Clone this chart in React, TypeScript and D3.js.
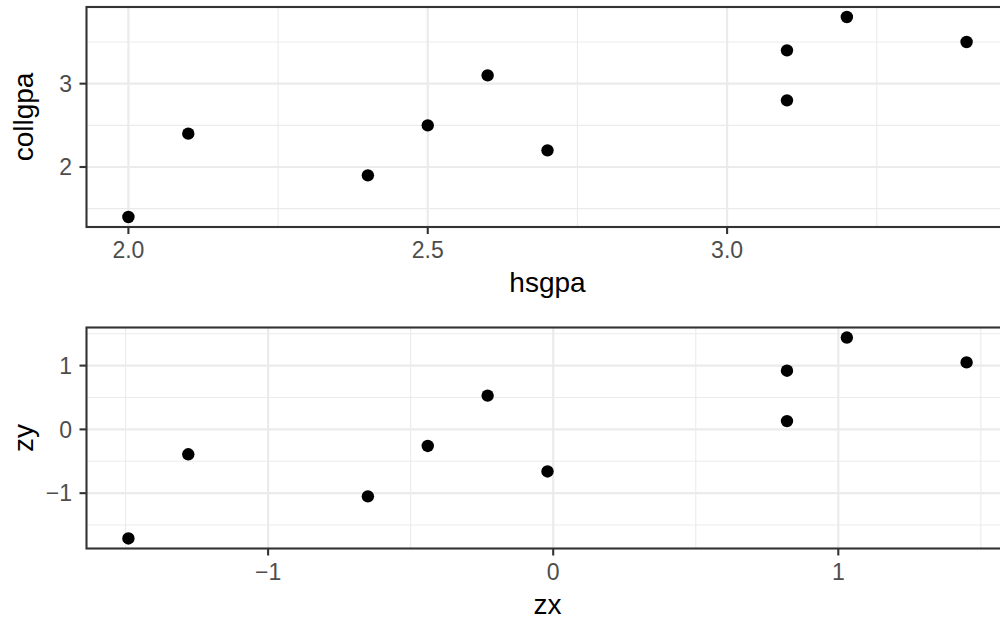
import React, { useRef, useEffect } from 'react'
import * as d3 from 'd3'

// raw scores
const hsgpa = [2.0, 2.1, 2.4, 2.5, 2.6, 2.7, 3.1, 3.1, 3.2, 3.4]
const collgpa = [1.4, 2.4, 1.9, 2.5, 3.1, 2.2, 3.4, 2.8, 3.8, 3.5]

// standardized scores
const zx = [-1.49, -1.28, -0.65, -0.44, -0.23, -0.02, 0.82, 0.82, 1.03, 1.45]
const zy = [-1.71, -0.39, -1.05, -0.26, 0.53, -0.66, 0.92, 0.13, 1.44, 1.05]

const topXTicks = [2.0, 2.5, 3.0]
const topXMinor = [2.25, 2.75, 3.25]
const topYTicks = [2, 3]
const topYMinor = [1.5, 2.5, 3.5]

const botXTicks = [-1, 0, 1]
const botXMinor = [-1.5, -0.5, 0.5, 1.5]
const botYTicks = [-1, 0, 1]
const botYMinor = [-1.5, -0.5, 0.5, 1.5]

const FONT = "'Liberation Sans', Arial, Helvetica, sans-serif"

const expand = (vals: number[]) => {
    const [lo, hi] = d3.extent(vals) as [number, number]
    const pad = (hi - lo) * 0.05
    return [lo - pad, hi + pad]
}

export default function App() {
    const visEl = useRef<HTMLDivElement>(null)
    const width = 1000
    const height = 619

    useEffect(() => {
        const root = d3.select(visEl.current)
        root.selectAll('*').remove()
        const svg = root.append('svg')
            .attr('width', width)
            .attr('height', height)
            .style('display', 'block')
            .style('font-family', FONT)

        const left = 86.5
        const right = 1008.5

        const drawPanel = (opts: {
            xs: number[], ys: number[], top: number, bottom: number,
            xTicks: number[], xMinor: number[], yTicks: number[], yMinor: number[],
            xFmt: (d: number) => string, yFmt: (d: number) => string,
            xLabel: string, yLabel: string
        }) => {
            const { xs, ys, top, bottom } = opts
            const x = d3.scaleLinear().domain(expand(xs)).range([left, right])
            const y = d3.scaleLinear().domain(expand(ys)).range([bottom, top])

            const g = svg.append('g')

            // minor grid
            g.selectAll(null).data(opts.xMinor).enter().append('line')
                .attr('x1', d => x(d)).attr('x2', d => x(d))
                .attr('y1', top).attr('y2', bottom)
                .attr('stroke', '#EBEBEB').attr('stroke-width', 1.1)
            g.selectAll(null).data(opts.yMinor).enter().append('line')
                .attr('y1', d => y(d)).attr('y2', d => y(d))
                .attr('x1', left).attr('x2', right)
                .attr('stroke', '#EBEBEB').attr('stroke-width', 1.1)

            // major grid
            g.selectAll(null).data(opts.xTicks).enter().append('line')
                .attr('x1', d => x(d)).attr('x2', d => x(d))
                .attr('y1', top).attr('y2', bottom)
                .attr('stroke', '#EBEBEB').attr('stroke-width', 2.2)
            g.selectAll(null).data(opts.yTicks).enter().append('line')
                .attr('y1', d => y(d)).attr('y2', d => y(d))
                .attr('x1', left).attr('x2', right)
                .attr('stroke', '#EBEBEB').attr('stroke-width', 2.2)

            // points
            g.selectAll(null).data(xs).enter().append('circle')
                .attr('cx', d => x(d))
                .attr('cy', (d, i) => y(ys[i]))
                .attr('r', 6.2)
                .attr('fill', 'black')

            // border
            g.append('rect')
                .attr('x', left).attr('y', top)
                .attr('width', right - left).attr('height', bottom - top)
                .attr('fill', 'none').attr('stroke', '#333333').attr('stroke-width', 2.1)

            // ticks
            g.selectAll(null).data(opts.xTicks).enter().append('line')
                .attr('x1', d => x(d)).attr('x2', d => x(d))
                .attr('y1', bottom).attr('y2', bottom + 7)
                .attr('stroke', '#333333').attr('stroke-width', 2.1)
            g.selectAll(null).data(opts.yTicks).enter().append('line')
                .attr('y1', d => y(d)).attr('y2', d => y(d))
                .attr('x1', left - 7).attr('x2', left)
                .attr('stroke', '#333333').attr('stroke-width', 2.1)

            // tick labels
            g.selectAll(null).data(opts.xTicks).enter().append('text')
                .attr('x', d => x(d)).attr('y', bottom + 31)
                .attr('text-anchor', 'middle')
                .attr('font-size', 23).attr('fill', '#4D4D4D')
                .text(opts.xFmt)
            g.selectAll(null).data(opts.yTicks).enter().append('text')
                .attr('x', left - 14.5).attr('y', d => y(d))
                .attr('dy', '0.36em')
                .attr('text-anchor', 'end')
                .attr('font-size', 23).attr('fill', '#4D4D4D')
                .text(opts.yFmt)

            // axis titles
            g.append('text')
                .attr('x', (left + right) / 2).attr('y', bottom + 65)
                .attr('text-anchor', 'middle')
                .attr('font-size', 28).attr('fill', 'black')
                .text(opts.xLabel)
            g.append('text')
                .attr('transform', `translate(33,${(top + bottom) / 2}) rotate(-90)`)
                .attr('text-anchor', 'middle')
                .attr('font-size', 28).attr('fill', 'black')
                .text(opts.yLabel)
        }

        const minus = (d: number) => d3.format('d')(d).replace('-', '\u2212')

        drawPanel({
            xs: hsgpa, ys: collgpa, top: 7, bottom: 227,
            xTicks: topXTicks, xMinor: topXMinor, yTicks: topYTicks, yMinor: topYMinor,
            xFmt: d3.format('.1f'), yFmt: d3.format('d'),
            xLabel: 'hsgpa', yLabel: 'collgpa'
        })

        drawPanel({
            xs: zx, ys: zy, top: 327.5, bottom: 548.5,
            xTicks: botXTicks, xMinor: botXMinor, yTicks: botYTicks, yMinor: botYMinor,
            xFmt: minus, yFmt: minus,
            xLabel: 'zx', yLabel: 'zy'
        })
    }, [])

    return (
        <div style={{ position: 'absolute', left: 0, top: 0, width: 1000, height: 619, overflow: 'hidden', background: 'white' }}>
            <div ref={visEl}></div>
        </div>
    )
}
